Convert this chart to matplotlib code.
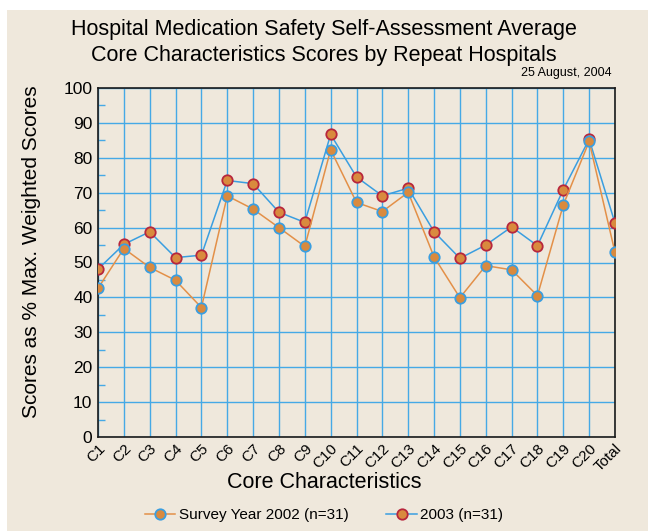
import matplotlib
matplotlib.use("Agg")
import matplotlib.pyplot as plt
from matplotlib.patches import Rectangle
from matplotlib.ticker import MultipleLocator

plt.rcParams['font.family'] = ['Liberation Sans', 'DejaVu Sans']

categories = ['C1', 'C2', 'C3', 'C4', 'C5', 'C6', 'C7', 'C8', 'C9', 'C10', 'C11',
              'C12', 'C13', 'C14', 'C15', 'C16', 'C17', 'C18', 'C19', 'C20', 'Total']
scores_2002 = [42.6, 54.0, 48.6, 44.9, 37.1, 69.1, 65.3, 60.0, 54.6, 82.3, 67.2,
               64.6, 70.1, 51.6, 39.9, 49.1, 47.9, 40.5, 66.5, 84.7, 52.9]
scores_2003 = [48.1, 55.2, 58.8, 51.4, 52.1, 73.5, 72.6, 64.4, 61.5, 86.7, 74.5,
               69.1, 71.3, 58.8, 51.2, 55.0, 60.2, 54.8, 70.9, 85.3, 61.3]

bg = '#efe8dc'
grid_blue = '#45a9e6'
line_blue = '#3a9ee0'
line_orange = '#e39048'
face_orange = '#d98a3e'
edge_red = '#b8263c'

fig = plt.figure(figsize=(6.48, 5.31), dpi=100)
fig.patch.set_facecolor(bg)
# white strips at top and left like the scanned original
fig.patches.append(Rectangle((0, 1 - 10 / 531), 1, 10 / 531, transform=fig.transFigure,
                             facecolor='white', edgecolor='none', zorder=-1))
fig.patches.append(Rectangle((0, 0), 7 / 648, 1, transform=fig.transFigure,
                             facecolor='white', edgecolor='none', zorder=-1))

ax = fig.add_axes([98 / 648, 94 / 531, 517 / 648, 349 / 531])
ax.set_facecolor(bg)

x = list(range(len(categories)))
ax.plot(x, scores_2003, color=line_blue, lw=1.1, marker='o', ms=7.5,
        mfc=face_orange, mec=edge_red, mew=1.3, label='2003 (n=31)', zorder=3)
ax.plot(x, scores_2002, color=line_orange, lw=1.1, marker='o', ms=7.5,
        mfc=face_orange, mec=line_blue, mew=1.3, label='Survey Year 2002 (n=31)', zorder=4)

ax.set_xlim(0, len(categories) - 1)
ax.set_ylim(0, 100)
ax.set_xticks(x)
ax.set_xticklabels(categories, rotation=45, ha='right', rotation_mode='anchor', fontsize=11)
ax.yaxis.set_major_locator(MultipleLocator(10))
ax.yaxis.set_minor_locator(MultipleLocator(5))
ax.tick_params(axis='y', which='major', length=0, labelsize=12.5, pad=4)
ax.tick_params(axis='y', which='minor', direction='in', length=5, color=grid_blue, width=1)
ax.tick_params(axis='x', length=0, pad=3)
ax.grid(True, which='major', color=grid_blue, lw=1.0)
ax.set_axisbelow(True)
for s in ax.spines.values():
    s.set_color('#1a1a1a')
    s.set_linewidth(1.2)

ax.set_ylabel('Scores as % Max. Weighted Scores', fontsize=15)
ax.yaxis.set_label_coords(-0.11, 0.53)

fig.text(0.5, 1 - 483 / 531, 'Core Characteristics', ha='center', va='center', fontsize=15.5)
fig.text(0.5, 1 - 30 / 531, 'Hospital Medication Safety Self-Assessment Average',
         ha='center', va='center', fontsize=15.5)
fig.text(0.5, 1 - 55 / 531, 'Core Characteristics Scores by Repeat Hospitals',
         ha='center', va='center', fontsize=15.5)
fig.text(612 / 648, 1 - 73 / 531, '25 August, 2004', ha='right', va='center', fontsize=9)

h, l = ax.get_legend_handles_labels()
fig.legend(h[::-1], l[::-1], loc='center', bbox_to_anchor=(0.5, 1 - 515 / 531), ncol=2,
           frameon=False, fontsize=11, handlelength=2.0, handletextpad=0.2, columnspacing=2.5)

fig.savefig('out.png', dpi=100, facecolor=fig.get_facecolor())
